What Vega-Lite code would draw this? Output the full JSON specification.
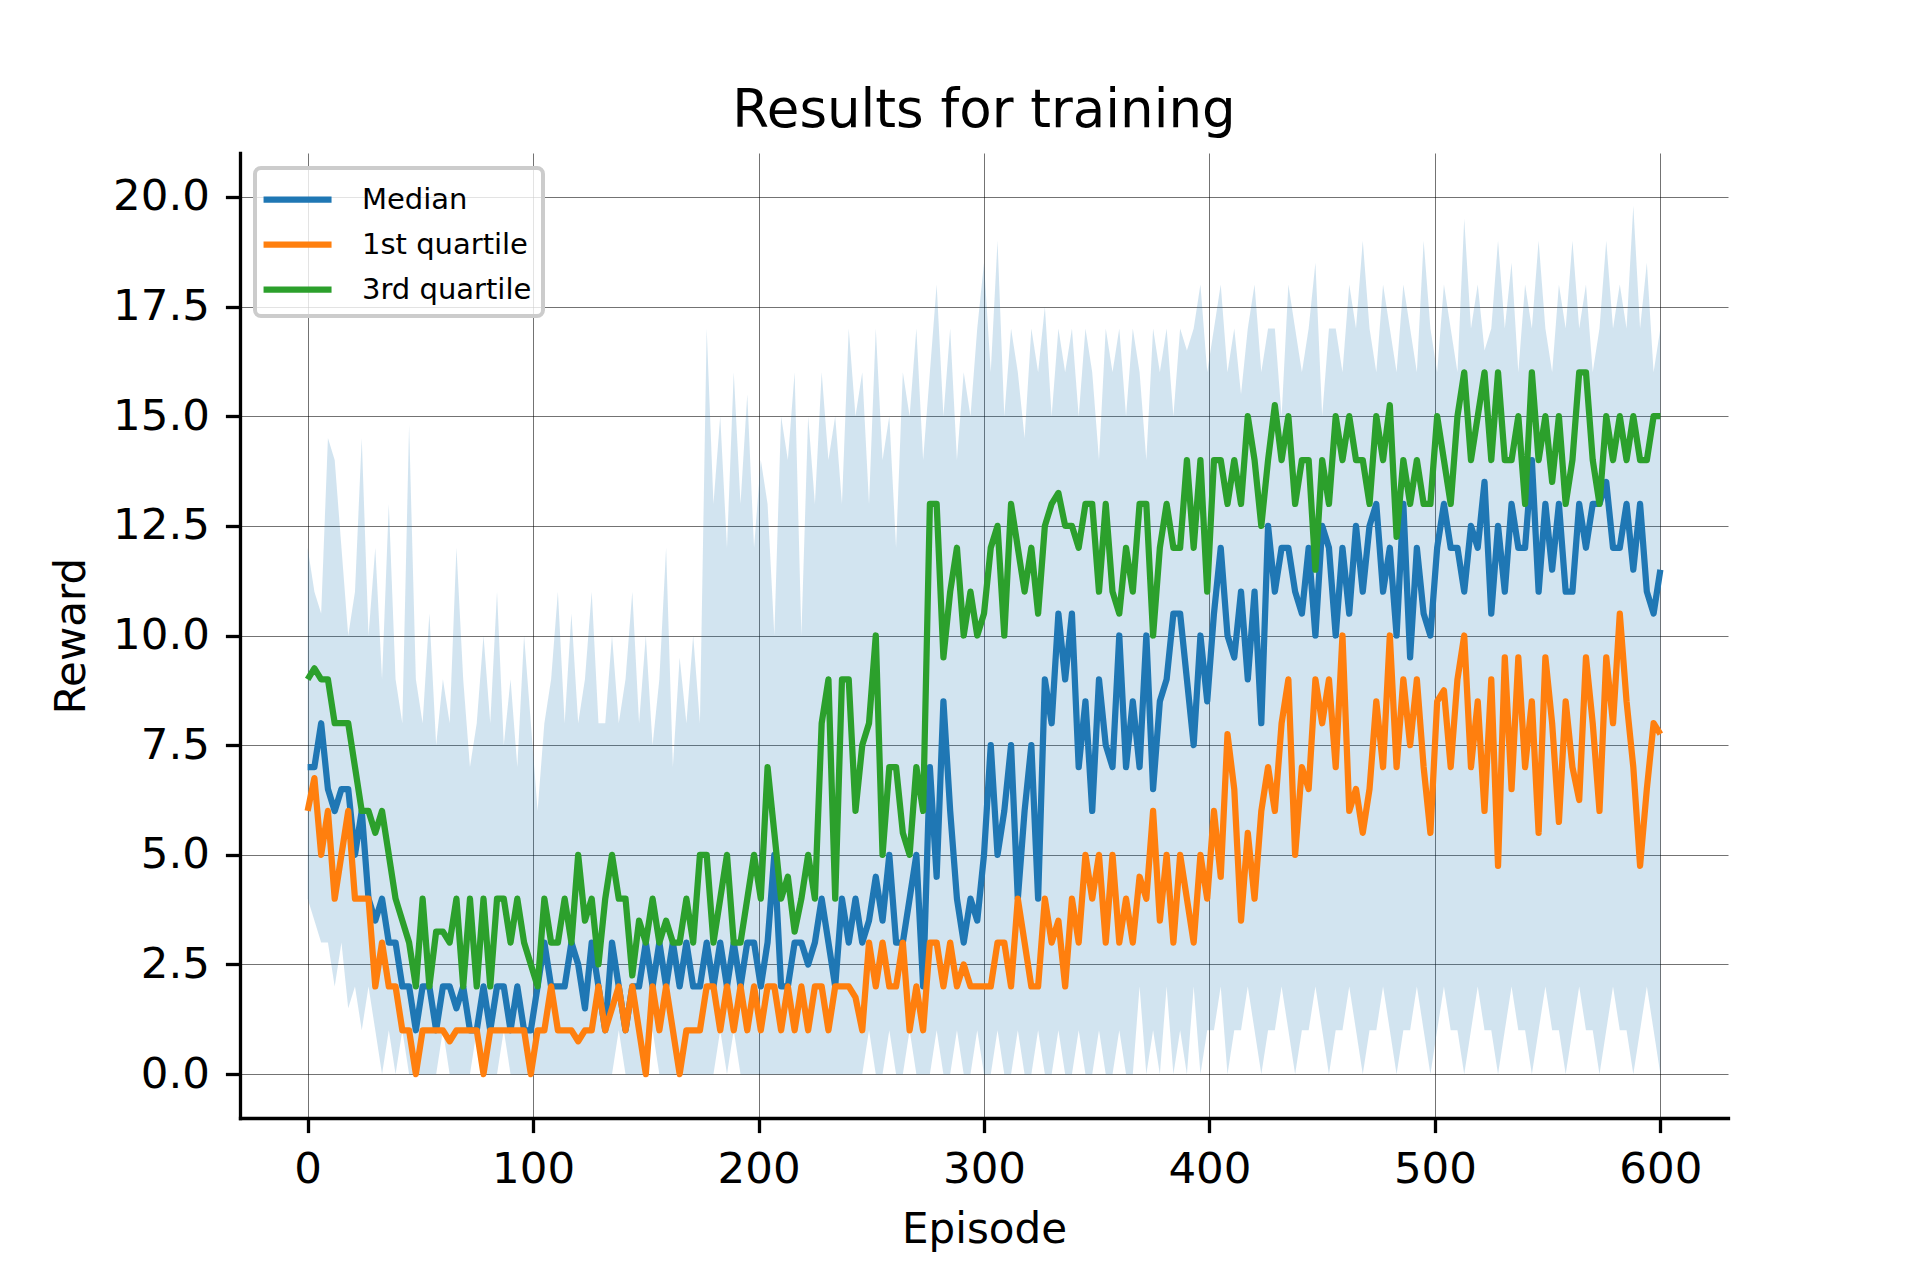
{
  "$schema": "https://vega.github.io/schema/vega-lite/v6.json",
  "width": 1488,
  "height": 965,
  "autosize": {"type": "none"},
  "padding": {"left": 240, "top": 153, "right": 192, "bottom": 162},
  "background": "white",
  "title": {
    "text": "Results for training",
    "font": "DejaVu Sans",
    "fontSize": 53,
    "fontWeight": "normal",
    "color": "black",
    "anchor": "middle",
    "frame": "group",
    "baseline": "alphabetic",
    "offset": 26,
    "dy": 53
  },
  "data": {
    "values": [
      {"ep":0,"med":7,"q1":6,"q3":9,"lo":4,"hi":12},
      {"ep":3,"med":7,"q1":6.75,"q3":9.25,"lo":3.5,"hi":11},
      {"ep":6,"med":8,"q1":5,"q3":9,"lo":3,"hi":10.5},
      {"ep":9,"med":6.5,"q1":6,"q3":9,"lo":3,"hi":14.5},
      {"ep":12,"med":6,"q1":4,"q3":8,"lo":2,"hi":14},
      {"ep":15,"med":6.5,"q1":5,"q3":8,"lo":3,"hi":12},
      {"ep":18,"med":6.5,"q1":6,"q3":8,"lo":1.5,"hi":10},
      {"ep":21,"med":5,"q1":4,"q3":7,"lo":2,"hi":11},
      {"ep":24,"med":6,"q1":4,"q3":6,"lo":1,"hi":14.5},
      {"ep":27,"med":4,"q1":4,"q3":6,"lo":2,"hi":10},
      {"ep":30,"med":3.5,"q1":2,"q3":5.5,"lo":1,"hi":12},
      {"ep":33,"med":4,"q1":3,"q3":6,"lo":0,"hi":9},
      {"ep":36,"med":3,"q1":2,"q3":5,"lo":1,"hi":13},
      {"ep":39,"med":3,"q1":2,"q3":4,"lo":0,"hi":9},
      {"ep":42,"med":2,"q1":1,"q3":3.5,"lo":1,"hi":8},
      {"ep":45,"med":2,"q1":1,"q3":3,"lo":0,"hi":14.8},
      {"ep":48,"med":1,"q1":0,"q3":2,"lo":0,"hi":9},
      {"ep":51,"med":2,"q1":1,"q3":4,"lo":0,"hi":8},
      {"ep":54,"med":2,"q1":1,"q3":2,"lo":0,"hi":10.5},
      {"ep":57,"med":1,"q1":1,"q3":3.25,"lo":0,"hi":7.5},
      {"ep":60,"med":2,"q1":1,"q3":3.25,"lo":1,"hi":9},
      {"ep":63,"med":2,"q1":0.75,"q3":3,"lo":0,"hi":8},
      {"ep":66,"med":1.5,"q1":1,"q3":4,"lo":0,"hi":12},
      {"ep":69,"med":2,"q1":1,"q3":2,"lo":0,"hi":9},
      {"ep":72,"med":1,"q1":1,"q3":4,"lo":0,"hi":7},
      {"ep":75,"med":1,"q1":1,"q3":2,"lo":1,"hi":8},
      {"ep":78,"med":2,"q1":0,"q3":4,"lo":0,"hi":10},
      {"ep":81,"med":1,"q1":1,"q3":2,"lo":0,"hi":8},
      {"ep":84,"med":2,"q1":1,"q3":4,"lo":0,"hi":11},
      {"ep":87,"med":2,"q1":1,"q3":4,"lo":1,"hi":7.5},
      {"ep":90,"med":1,"q1":1,"q3":3,"lo":0,"hi":9},
      {"ep":93,"med":2,"q1":1,"q3":4,"lo":0,"hi":7},
      {"ep":96,"med":1,"q1":1,"q3":3,"lo":0,"hi":10},
      {"ep":99,"med":1,"q1":0,"q3":2.5,"lo":0,"hi":8},
      {"ep":102,"med":2,"q1":1,"q3":2,"lo":0,"hi":6},
      {"ep":105,"med":3,"q1":1,"q3":4,"lo":0,"hi":8},
      {"ep":108,"med":2,"q1":2,"q3":3,"lo":0,"hi":9},
      {"ep":111,"med":2,"q1":1,"q3":3,"lo":0,"hi":11},
      {"ep":114,"med":2,"q1":1,"q3":4,"lo":0,"hi":8},
      {"ep":117,"med":3,"q1":1,"q3":3,"lo":0,"hi":10.5},
      {"ep":120,"med":2.5,"q1":0.75,"q3":5,"lo":0,"hi":8},
      {"ep":123,"med":1.5,"q1":1,"q3":3.5,"lo":0,"hi":9},
      {"ep":126,"med":3,"q1":1,"q3":4,"lo":0,"hi":11},
      {"ep":129,"med":2,"q1":2,"q3":2.5,"lo":0,"hi":8},
      {"ep":132,"med":1,"q1":1,"q3":4,"lo":0,"hi":8},
      {"ep":135,"med":3,"q1":1.5,"q3":5,"lo":0,"hi":10},
      {"ep":138,"med":2,"q1":2,"q3":4,"lo":1,"hi":8},
      {"ep":141,"med":1,"q1":1,"q3":4,"lo":0,"hi":9},
      {"ep":144,"med":2,"q1":2,"q3":2.25,"lo":0,"hi":11},
      {"ep":147,"med":2,"q1":1,"q3":3.5,"lo":0,"hi":8},
      {"ep":150,"med":3,"q1":0,"q3":3,"lo":0,"hi":10},
      {"ep":153,"med":2,"q1":2,"q3":4,"lo":1,"hi":7.5},
      {"ep":156,"med":3,"q1":1,"q3":3,"lo":0,"hi":9},
      {"ep":159,"med":2,"q1":2,"q3":3.5,"lo":0,"hi":12},
      {"ep":162,"med":3,"q1":1,"q3":3,"lo":0,"hi":7},
      {"ep":165,"med":2,"q1":0,"q3":3,"lo":0,"hi":9.5},
      {"ep":168,"med":3,"q1":1,"q3":4,"lo":0,"hi":8},
      {"ep":171,"med":2,"q1":1,"q3":3,"lo":0,"hi":10},
      {"ep":174,"med":2,"q1":1,"q3":5,"lo":0,"hi":8},
      {"ep":177,"med":3,"q1":2,"q3":5,"lo":0,"hi":17},
      {"ep":180,"med":2,"q1":2,"q3":3,"lo":0,"hi":13},
      {"ep":183,"med":3,"q1":1,"q3":4,"lo":1,"hi":15},
      {"ep":186,"med":2,"q1":2,"q3":5,"lo":0,"hi":12},
      {"ep":189,"med":3,"q1":1,"q3":3,"lo":1,"hi":16},
      {"ep":192,"med":2,"q1":2,"q3":3,"lo":0,"hi":13},
      {"ep":195,"med":3,"q1":1,"q3":4,"lo":0,"hi":15.5},
      {"ep":198,"med":3,"q1":2,"q3":5,"lo":0,"hi":12},
      {"ep":201,"med":2,"q1":1,"q3":4,"lo":0,"hi":14},
      {"ep":204,"med":3,"q1":2,"q3":7,"lo":0,"hi":13},
      {"ep":207,"med":5,"q1":2,"q3":5.5,"lo":0,"hi":10},
      {"ep":210,"med":2,"q1":1,"q3":4,"lo":0,"hi":15},
      {"ep":213,"med":2,"q1":2,"q3":4.5,"lo":0,"hi":14},
      {"ep":216,"med":3,"q1":1,"q3":3.25,"lo":0,"hi":16},
      {"ep":219,"med":3,"q1":2,"q3":4,"lo":0,"hi":10},
      {"ep":222,"med":2.5,"q1":1,"q3":5,"lo":0,"hi":15},
      {"ep":225,"med":3,"q1":2,"q3":4,"lo":0,"hi":13},
      {"ep":228,"med":4,"q1":2,"q3":8,"lo":0,"hi":16},
      {"ep":231,"med":3,"q1":1,"q3":9,"lo":0,"hi":14},
      {"ep":234,"med":2,"q1":2,"q3":4,"lo":0,"hi":15},
      {"ep":237,"med":4,"q1":2,"q3":9,"lo":0,"hi":13},
      {"ep":240,"med":3,"q1":2,"q3":9,"lo":0,"hi":17},
      {"ep":243,"med":4,"q1":1.75,"q3":6,"lo":0,"hi":15},
      {"ep":246,"med":3,"q1":1,"q3":7.5,"lo":0,"hi":16},
      {"ep":249,"med":3.5,"q1":3,"q3":8,"lo":1,"hi":13},
      {"ep":252,"med":4.5,"q1":2,"q3":10,"lo":0,"hi":17},
      {"ep":255,"med":3.5,"q1":3,"q3":5,"lo":0,"hi":14},
      {"ep":258,"med":5,"q1":2,"q3":7,"lo":1,"hi":15},
      {"ep":261,"med":3,"q1":2,"q3":7,"lo":0,"hi":12},
      {"ep":264,"med":3,"q1":3,"q3":5.5,"lo":0,"hi":16},
      {"ep":267,"med":4,"q1":1,"q3":5,"lo":1,"hi":15},
      {"ep":270,"med":5,"q1":2,"q3":7,"lo":0,"hi":17},
      {"ep":273,"med":2,"q1":1,"q3":6,"lo":0,"hi":14},
      {"ep":276,"med":7,"q1":3,"q3":13,"lo":0,"hi":16},
      {"ep":279,"med":4.5,"q1":3,"q3":13,"lo":1,"hi":18},
      {"ep":282,"med":8.5,"q1":2,"q3":9.5,"lo":0,"hi":15},
      {"ep":285,"med":6,"q1":3,"q3":11,"lo":0,"hi":17},
      {"ep":288,"med":4,"q1":2,"q3":12,"lo":1,"hi":14},
      {"ep":291,"med":3,"q1":2.5,"q3":10,"lo":0,"hi":16},
      {"ep":294,"med":4,"q1":2,"q3":11,"lo":0,"hi":15},
      {"ep":297,"med":3.5,"q1":2,"q3":10,"lo":1,"hi":17},
      {"ep":300,"med":5,"q1":2,"q3":10.5,"lo":0,"hi":18.5},
      {"ep":303,"med":7.5,"q1":2,"q3":12,"lo":0,"hi":16},
      {"ep":306,"med":5,"q1":3,"q3":12.5,"lo":1,"hi":19},
      {"ep":309,"med":6,"q1":3,"q3":10,"lo":0,"hi":15},
      {"ep":312,"med":7.5,"q1":2,"q3":13,"lo":0,"hi":17},
      {"ep":315,"med":4,"q1":4,"q3":12,"lo":1,"hi":16},
      {"ep":318,"med":6,"q1":3,"q3":11,"lo":0,"hi":14.5},
      {"ep":321,"med":7.5,"q1":2,"q3":12,"lo":0,"hi":17},
      {"ep":324,"med":4,"q1":2,"q3":10.5,"lo":1,"hi":16},
      {"ep":327,"med":9,"q1":4,"q3":12.5,"lo":0,"hi":17.5},
      {"ep":330,"med":8,"q1":3,"q3":13,"lo":0,"hi":15},
      {"ep":333,"med":10.5,"q1":3.5,"q3":13.25,"lo":1,"hi":17},
      {"ep":336,"med":9,"q1":2,"q3":12.5,"lo":0,"hi":16},
      {"ep":339,"med":10.5,"q1":4,"q3":12.5,"lo":0,"hi":17},
      {"ep":342,"med":7,"q1":3,"q3":12,"lo":1,"hi":15},
      {"ep":345,"med":8.5,"q1":5,"q3":13,"lo":0,"hi":17},
      {"ep":348,"med":6,"q1":4,"q3":13,"lo":0,"hi":16},
      {"ep":351,"med":9,"q1":5,"q3":11,"lo":1,"hi":14},
      {"ep":354,"med":7.5,"q1":3,"q3":13,"lo":0,"hi":17},
      {"ep":357,"med":7,"q1":5,"q3":11,"lo":0,"hi":16},
      {"ep":360,"med":10,"q1":3,"q3":10.5,"lo":1,"hi":17},
      {"ep":363,"med":7,"q1":4,"q3":12,"lo":0,"hi":15},
      {"ep":366,"med":8.5,"q1":3,"q3":11,"lo":0,"hi":17},
      {"ep":369,"med":7,"q1":4.5,"q3":13,"lo":2,"hi":16},
      {"ep":372,"med":10,"q1":4,"q3":13,"lo":0,"hi":14},
      {"ep":375,"med":6.5,"q1":6,"q3":10,"lo":1,"hi":17},
      {"ep":378,"med":8.5,"q1":3.5,"q3":12,"lo":0,"hi":16},
      {"ep":381,"med":9,"q1":5,"q3":13,"lo":2,"hi":17},
      {"ep":384,"med":10.5,"q1":3,"q3":12,"lo":0,"hi":15},
      {"ep":387,"med":10.5,"q1":5,"q3":12,"lo":1,"hi":17},
      {"ep":390,"med":9,"q1":4,"q3":14,"lo":0,"hi":16.5},
      {"ep":393,"med":7.5,"q1":3,"q3":12,"lo":2,"hi":17},
      {"ep":396,"med":10,"q1":5,"q3":14,"lo":0,"hi":18},
      {"ep":399,"med":8.5,"q1":4,"q3":11,"lo":1,"hi":16},
      {"ep":402,"med":10.5,"q1":6,"q3":14,"lo":1,"hi":17},
      {"ep":405,"med":12,"q1":4.5,"q3":14,"lo":2,"hi":18},
      {"ep":408,"med":10,"q1":7.75,"q3":13,"lo":0,"hi":16},
      {"ep":411,"med":9.5,"q1":6.5,"q3":14,"lo":1,"hi":17},
      {"ep":414,"med":11,"q1":3.5,"q3":13,"lo":1,"hi":15.5},
      {"ep":417,"med":9,"q1":5.5,"q3":15,"lo":2,"hi":17},
      {"ep":420,"med":11,"q1":4,"q3":14,"lo":1,"hi":18},
      {"ep":423,"med":8,"q1":6,"q3":12.5,"lo":0,"hi":16},
      {"ep":426,"med":12.5,"q1":7,"q3":14,"lo":1,"hi":17},
      {"ep":429,"med":11,"q1":6,"q3":15.25,"lo":1,"hi":17},
      {"ep":432,"med":12,"q1":8,"q3":14,"lo":2,"hi":15},
      {"ep":435,"med":12,"q1":9,"q3":15,"lo":1,"hi":18},
      {"ep":438,"med":11,"q1":5,"q3":13,"lo":0,"hi":17},
      {"ep":441,"med":10.5,"q1":7,"q3":14,"lo":1,"hi":16},
      {"ep":444,"med":12,"q1":6.5,"q3":14,"lo":1,"hi":17},
      {"ep":447,"med":10,"q1":9,"q3":11.5,"lo":2,"hi":18.5},
      {"ep":450,"med":12.5,"q1":8,"q3":14,"lo":1,"hi":15},
      {"ep":453,"med":12,"q1":9,"q3":13,"lo":0,"hi":17},
      {"ep":456,"med":10,"q1":7,"q3":15,"lo":1,"hi":17},
      {"ep":459,"med":12,"q1":10,"q3":14,"lo":1,"hi":16},
      {"ep":462,"med":10.5,"q1":6,"q3":15,"lo":2,"hi":18},
      {"ep":465,"med":12.5,"q1":6.5,"q3":14,"lo":1,"hi":17},
      {"ep":468,"med":11,"q1":5.5,"q3":14,"lo":0,"hi":19},
      {"ep":471,"med":12.5,"q1":6.5,"q3":13,"lo":1,"hi":17},
      {"ep":474,"med":13,"q1":8.5,"q3":15,"lo":1,"hi":16},
      {"ep":477,"med":11,"q1":7,"q3":14,"lo":2,"hi":18},
      {"ep":480,"med":12,"q1":10,"q3":15.25,"lo":1,"hi":17},
      {"ep":483,"med":10,"q1":7,"q3":12.25,"lo":0,"hi":16},
      {"ep":486,"med":13,"q1":9,"q3":14,"lo":1,"hi":18},
      {"ep":489,"med":9.5,"q1":7.5,"q3":13,"lo":1,"hi":17},
      {"ep":492,"med":12,"q1":9,"q3":14,"lo":2,"hi":16},
      {"ep":495,"med":10.5,"q1":7,"q3":13,"lo":1,"hi":19},
      {"ep":498,"med":10,"q1":5.5,"q3":13,"lo":0,"hi":17},
      {"ep":501,"med":12,"q1":8.5,"q3":15,"lo":1,"hi":16},
      {"ep":504,"med":13,"q1":8.75,"q3":14,"lo":2,"hi":18},
      {"ep":507,"med":12,"q1":7,"q3":13,"lo":1,"hi":17},
      {"ep":510,"med":12,"q1":9,"q3":15,"lo":1,"hi":16},
      {"ep":513,"med":11,"q1":10,"q3":16,"lo":0,"hi":19.5},
      {"ep":516,"med":12.5,"q1":7,"q3":14,"lo":1,"hi":17},
      {"ep":519,"med":12,"q1":8.5,"q3":15,"lo":2,"hi":18},
      {"ep":522,"med":13.5,"q1":6,"q3":16,"lo":1,"hi":16.5},
      {"ep":525,"med":10.5,"q1":9,"q3":14,"lo":1,"hi":17},
      {"ep":528,"med":12.5,"q1":4.75,"q3":16,"lo":0,"hi":19},
      {"ep":531,"med":11,"q1":9.5,"q3":14,"lo":1,"hi":17},
      {"ep":534,"med":13,"q1":6.5,"q3":14,"lo":2,"hi":18.5},
      {"ep":537,"med":12,"q1":9.5,"q3":15,"lo":1,"hi":16},
      {"ep":540,"med":12,"q1":7,"q3":13,"lo":1,"hi":18},
      {"ep":543,"med":14,"q1":8.5,"q3":16,"lo":0,"hi":17},
      {"ep":546,"med":11,"q1":5.5,"q3":14,"lo":1,"hi":19},
      {"ep":549,"med":13,"q1":9.5,"q3":15,"lo":2,"hi":17},
      {"ep":552,"med":11.5,"q1":8,"q3":13.5,"lo":1,"hi":16},
      {"ep":555,"med":13,"q1":5.75,"q3":15,"lo":1,"hi":18},
      {"ep":558,"med":11,"q1":8.5,"q3":13,"lo":0,"hi":17},
      {"ep":561,"med":11,"q1":7,"q3":14,"lo":1,"hi":19},
      {"ep":564,"med":13,"q1":6.25,"q3":16,"lo":2,"hi":17},
      {"ep":567,"med":12,"q1":9.5,"q3":16,"lo":1,"hi":18},
      {"ep":570,"med":13,"q1":8,"q3":14,"lo":1,"hi":16},
      {"ep":573,"med":13,"q1":6,"q3":13,"lo":0,"hi":17},
      {"ep":576,"med":13.5,"q1":9.5,"q3":15,"lo":1,"hi":19},
      {"ep":579,"med":12,"q1":8,"q3":14,"lo":2,"hi":17},
      {"ep":582,"med":12,"q1":10.5,"q3":15,"lo":1,"hi":18},
      {"ep":585,"med":13,"q1":8.5,"q3":14,"lo":1,"hi":17},
      {"ep":588,"med":11.5,"q1":7,"q3":15,"lo":0,"hi":19.8},
      {"ep":591,"med":13,"q1":4.75,"q3":14,"lo":1,"hi":17},
      {"ep":594,"med":11,"q1":6.5,"q3":14,"lo":2,"hi":18.5},
      {"ep":597,"med":10.5,"q1":8,"q3":15,"lo":1,"hi":16},
      {"ep":600,"med":11.5,"q1":7.75,"q3":15,"lo":0,"hi":17}
    ]
  },
  "encoding": {
    "x": {
      "field": "ep",
      "type": "quantitative",
      "title": "Episode",
      "scale": {"domain": [-30, 630], "nice": false, "zero": false},
      "axis": {"values": [0, 100, 200, 300, 400, 500, 600], "format": "d", "titlePadding": 18}
    }
  },
  "layer": [
    {
      "mark": {"type": "area", "color": "#1f77b4", "opacity": 0.2},
      "encoding": {
        "y": {
          "field": "lo",
          "type": "quantitative",
          "title": "Reward",
          "scale": {"domain": [-1, 21], "nice": false, "zero": false},
          "axis": {"values": [0, 2.5, 5, 7.5, 10, 12.5, 15, 17.5, 20], "format": ".1f", "titlePadding": 19}
        },
        "y2": {"field": "hi"}
      }
    },
    {
      "transform": [{"fold": ["med", "q1", "q3"], "as": ["series", "value"]}],
      "mark": {"type": "line", "strokeWidth": 6.25, "strokeJoin": "round"},
      "encoding": {
        "y": {
          "field": "value",
          "type": "quantitative",
          "title": "Reward",
          "scale": {"domain": [-1, 21], "nice": false, "zero": false},
          "axis": {"values": [0, 2.5, 5, 7.5, 10, 12.5, 15, 17.5, 20], "format": ".1f", "titlePadding": 19}
        },
        "color": {
          "field": "series",
          "type": "nominal",
          "scale": {"domain": ["med", "q1", "q3"], "range": ["#1f77b4", "#ff7f0e", "#2ca02c"]},
          "legend": {
            "title": null,
            "orient": "top-left",
            "offset": 15,
            "labelExpr": "datum.value == 'med' ? 'Median' : datum.value == 'q1' ? '1st quartile' : '3rd quartile'"
          }
        }
      }
    }
  ],
  "config": {
    "view": {"stroke": null},
    "axis": {
      "domainColor": "black",
      "domainWidth": 3.3,
      "domainCap": "square",
      "tickColor": "black",
      "tickWidth": 3.3,
      "tickSize": 14.6,
      "labelFont": "DejaVu Sans",
      "labelFontSize": 43.5,
      "labelColor": "black",
      "labelPadding": 16,
      "labelOverlap": false,
      "labelFlush": false,
      "titleFont": "DejaVu Sans",
      "titleFontSize": 42,
      "titleFontWeight": "normal",
      "titleColor": "black",
      "grid": true,
      "gridColor": "black",
      "gridWidth": 1,
      "gridOpacity": 0.55
    },
    "legend": {
      "symbolType": "M-1.35,0H2.65",
      "symbolStrokeWidth": 6.25,
      "symbolSize": 1156,
      "labelFont": "DejaVu Sans",
      "labelFontSize": 29,
      "labelColor": "black",
      "labelOffset": 55,
      "labelLimit": 500,
      "padding": 11,
      "rowPadding": 9,
      "fillColor": "rgba(255,255,255,0.8)",
      "strokeColor": "#cccccc",
      "strokeWidth": 4,
      "cornerRadius": 6
    }
  }
}
